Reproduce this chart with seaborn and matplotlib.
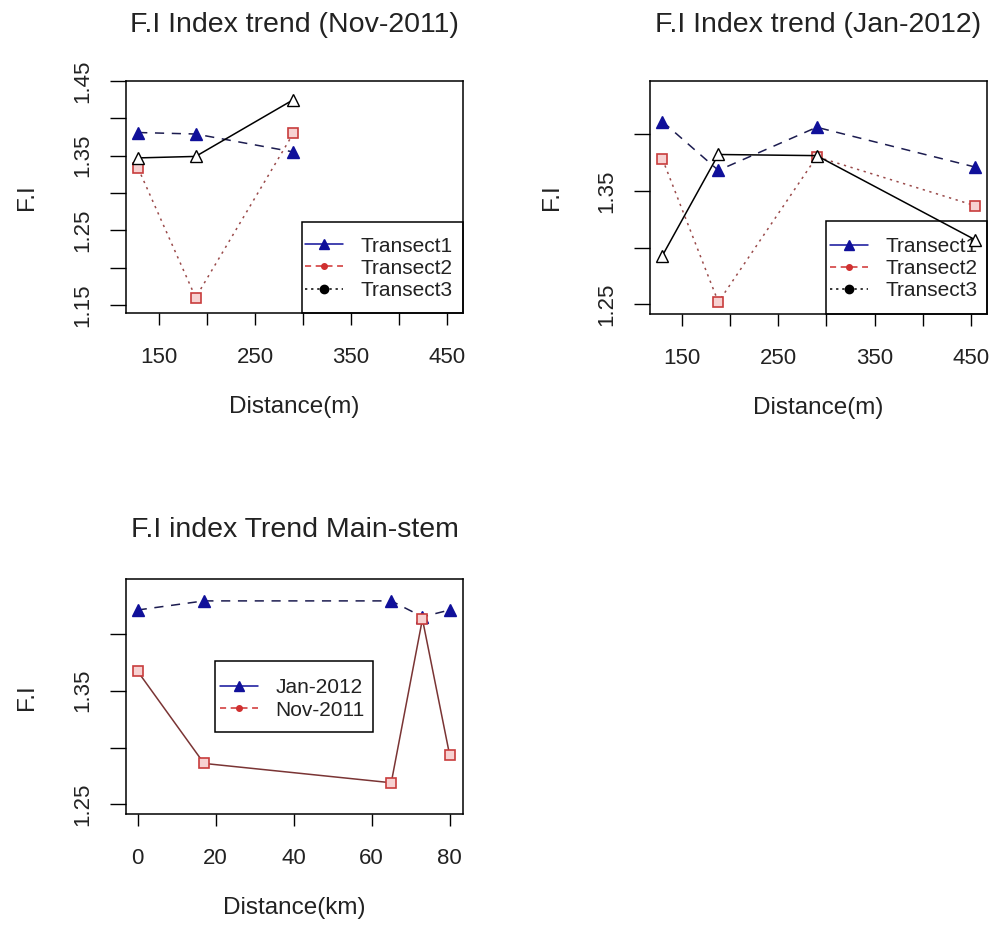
import matplotlib
matplotlib.use("Agg")
import matplotlib.pyplot as plt
from matplotlib.lines import Line2D
from matplotlib.patches import Rectangle
import seaborn as sns

# Transect sampling distances (m)
nov_dist = [128, 188, 290]
jan_dist = [130, 188, 290, 454]

# F.I per transect, November 2011
nov_t1 = [1.381, 1.379, 1.355]
nov_t2 = [1.333, 1.160, 1.380]
nov_t3 = [1.347, 1.349, 1.425]

# F.I per transect, January 2012
jan_t1 = [1.411, 1.368, 1.406, 1.371]
jan_t2 = [1.378, 1.252, 1.380, 1.337]
jan_t3 = [1.293, 1.382, 1.381, 1.307]

# Main-stem stations (km) and F.I for both surveys
stem_km = [0, 17, 65, 73, 80]
stem_jan = [1.421, 1.429, 1.429, 1.415, 1.421]
stem_nov = [1.367, 1.286, 1.269, 1.413, 1.293]

transect_labels = ["Transect1", "Transect2", "Transect3"]
stem_labels = ["Jan-2012", "Nov-2011"]
titles = ["F.I Index trend (Nov-2011)", "F.I Index trend (Jan-2012)",
          "F.I index Trend Main-stem"]
m_ticks = [150, 200, 250, 300, 350, 400, 450]
m_ticklabels = ["150", "", "250", "", "350", "", "450"]
km_ticks = [0, 20, 40, 60, 80]

sns.set_theme(style="ticks")
plt.rcParams["font.family"] = ["Liberation Sans", "DejaVu Sans"]

TXT = "#222222"
BLUE = "#10109a"
BLUE_LINE = "#1c1c50"
RED = "#c83c3c"
RED_FILL = "#f7d2d2"
RED_LINE = "#9a4a4a"
BROWN_LINE = "#7a3434"

DASH = (0, (6, 5))
DOT = (0, (1.5, 3))

t1_style = dict(color=BLUE_LINE, linestyle=DASH, marker="^", markersize=8,
                markerfacecolor=BLUE, markeredgecolor=BLUE, markeredgewidth=1)
t2_style = dict(color=RED_LINE, linestyle=DOT, marker="s", markersize=7,
                markerfacecolor=RED_FILL, markeredgecolor=RED, markeredgewidth=1.2)
t3_style = dict(color="black", linestyle="-", marker="^", markersize=9,
                markerfacecolor="white", markeredgecolor="black", markeredgewidth=1)
nov_stem_style = dict(color=BROWN_LINE, linestyle="-", marker="s", markersize=7,
                      markerfacecolor=RED_FILL, markeredgecolor=RED, markeredgewidth=1.2)


def draw(ax, x, y, style):
    sns.lineplot(x=x, y=y, ax=ax, estimator=None, sort=False, legend=False,
                 linewidth=1.1, zorder=3, **style)


def style_axes(ax, xlim, ylim, xticks, xticklabels, yticks, yticklabels, xlabel):
    ax.set_xlim(*xlim)
    ax.set_ylim(*ylim)
    ax.set_xticks(xticks)
    ax.set_xticklabels(xticklabels)
    ax.set_yticks(yticks)
    ax.set_yticklabels(yticklabels, rotation=90, va="center")
    for s in ax.spines.values():
        s.set_visible(True)
        s.set_linewidth(1.1)
        s.set_color("black")
    ax.tick_params(axis="x", direction="out", length=8.5, width=1.0, pad=16,
                   labelsize=16, colors="black", labelcolor=TXT)
    ax.tick_params(axis="y", direction="out", length=11.5, width=1.0, pad=12,
                   labelsize=16, colors="black", labelcolor=TXT)
    ax.set_xlabel(xlabel, fontsize=17.5, color=TXT)
    ax.set_ylabel("F.I", fontsize=17.5, color=TXT)
    h = ax.get_position().height * 932
    ax.xaxis.set_label_coords(0.5, -94 / h)
    ax.xaxis.label.set_va("center")
    ax.yaxis.set_label_coords(-98.5 / 337, 0.5)
    ax.yaxis.label.set_va("center")
    ax.grid(False)


def legend_box(ax, handles, labels, anchor, frame):
    ax.add_patch(Rectangle(frame[:2], frame[2], frame[3], transform=ax.transAxes,
                           facecolor="white", edgecolor="black", linewidth=1.1,
                           zorder=1, clip_on=False))
    leg = ax.legend(handles, labels, loc="center left", bbox_to_anchor=anchor,
                    frameon=False, borderpad=0, borderaxespad=0,
                    handlelength=1.83, handletextpad=0.82, labelspacing=0.15,
                    fontsize=15, labelcolor=TXT)
    leg.set_zorder(2)


transect_handles = [
    Line2D([], [], color=BLUE, linestyle="-", marker="^", markersize=7,
           markerfacecolor=BLUE, markeredgecolor=BLUE, linewidth=1.1),
    Line2D([], [], color="#d03030", linestyle=(0, (4, 3)), marker="o", markersize=4,
           markerfacecolor="#d03030", markeredgecolor="#d03030", linewidth=1.1),
    Line2D([], [], color="black", linestyle=(0, (1.5, 2.5)), marker="o", markersize=6,
           markerfacecolor="black", markeredgecolor="black", linewidth=1.1),
]
stem_handles = transect_handles[:2]

fig = plt.figure(figsize=(9.9, 9.32), dpi=100)
ax1 = fig.add_axes([126 / 990, 1 - 313 / 932, 337 / 990, 232 / 932])
ax2 = fig.add_axes([650 / 990, 1 - 314 / 932, 337 / 990, 233.3 / 932])
ax3 = fig.add_axes([126 / 990, 1 - 814 / 932, 337 / 990, 234.7 / 932])

# November 2011 transects
draw(ax1, nov_dist, nov_t1, t1_style)
draw(ax1, nov_dist, nov_t2, t2_style)
draw(ax1, nov_dist, nov_t3, t3_style)
style_axes(ax1, (115.3, 467.0), (1.1393, 1.45), m_ticks, m_ticklabels,
           [1.15, 1.20, 1.25, 1.30, 1.35, 1.40, 1.45],
           ["1.15", "", "1.25", "", "1.35", "", "1.45"], "Distance(m)")
legend_box(ax1, transect_handles, transect_labels, (0.531, 0.193),
           (0.5223, 0.0, 0.4777, 0.3935))

# January 2012 transects
draw(ax2, jan_dist, jan_t1, t1_style)
draw(ax2, jan_dist, jan_t2, t2_style)
draw(ax2, jan_dist, jan_t3, t3_style)
style_axes(ax2, (117.1, 466.6), (1.2415, 1.447), m_ticks, m_ticklabels,
           [1.25, 1.30, 1.35, 1.40], ["1.25", "", "1.35", ""], "Distance(m)")
legend_box(ax2, transect_handles, transect_labels, (0.534, 0.195),
           (0.5223, 0.0, 0.4777, 0.40))

# Main stem, both surveys
draw(ax3, stem_km, stem_jan, t1_style)
draw(ax3, stem_km, stem_nov, nov_stem_style)
style_axes(ax3, (-3.0, 83.4), (1.2415, 1.448), km_ticks,
           [str(k) for k in km_ticks], [1.25, 1.30, 1.35, 1.40],
           ["1.25", "", "1.35", ""], "Distance(km)")
legend_box(ax3, stem_handles, stem_labels, (0.279, 0.49),
           (0.264, 0.348, 0.47, 0.304))

# Panel titles
fig.text(294.5 / 990, 1 - 31.7 / 932, titles[0], ha="center", va="baseline",
         fontsize=20.5, color=TXT)
fig.text(818.5 / 990, 1 - 31.7 / 932, titles[1], ha="center", va="baseline",
         fontsize=20.5, color=TXT)
fig.text(294.5 / 990, 1 - 537 / 932, titles[2], ha="center", va="baseline",
         fontsize=20.5, color=TXT)

fig.savefig("out.png", dpi=100, facecolor="white")
